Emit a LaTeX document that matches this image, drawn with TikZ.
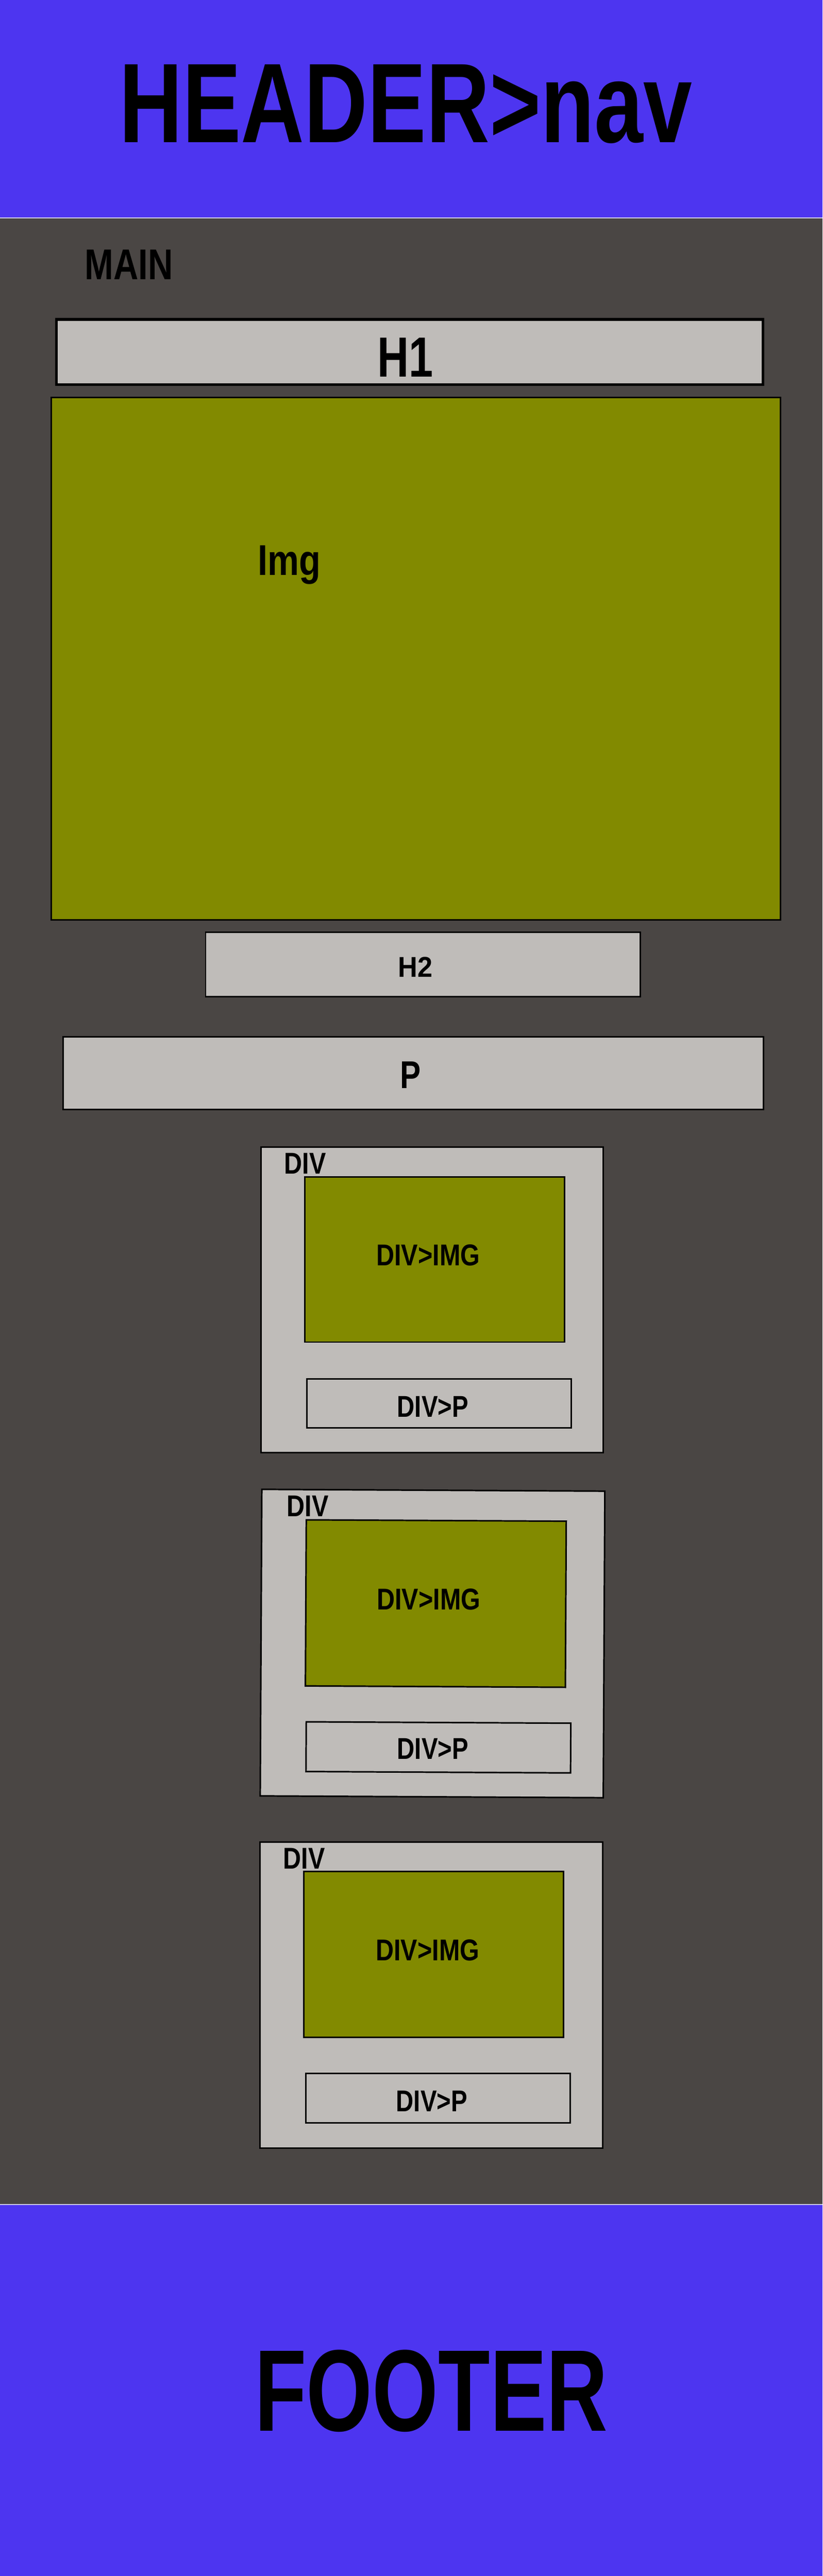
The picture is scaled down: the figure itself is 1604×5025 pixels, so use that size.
\documentclass[tikz,border=0pt]{standalone}
\usepackage{fontspec}
\setmainfont{Liberation Sans}
\definecolor{headblue}{RGB}{77,53,240}
\definecolor{maingrey}{RGB}{74,70,68}
\definecolor{boxgrey}{RGB}{191,188,185}
\definecolor{imgolive}{RGB}{130,138,0}
\definecolor{sepline}{RGB}{205,202,232}
\newcommand{\squeeze}[2]{\scalebox{#1}[1]{#2}}

\begin{document}
\begin{tikzpicture}[x = 0.01cm, y = -0.01cm, thick]
        \tikzstyle{box} = [draw = black, line width = 0.85pt, fill = boxgrey]
        \tikzstyle{imgbox} = [draw = black, line width = 0.85pt, fill = imgolive]
        \tikzstyle{txt} = [inner sep = 0pt, anchor = base, text = black, font = \bfseries]
        \useasboundingbox (0, 0) rectangle (1604, 5025);
        % page bands
        \fill[headblue] (0, 0) rectangle (1604, 425);
        \fill[maingrey] (0, 425) rectangle (1604, 4300);
        \fill[headblue] (0, 4300) rectangle (1604, 5025);
        \draw[sepline, line width = 0.6pt] (0, 425) -- (1604, 425);
        \draw[sepline, line width = 0.6pt] (0, 4300) -- (1604, 4300);
        \node[txt, font = \fontsize{62.8}{70}\selectfont\bfseries] (header) at (791, 278) {\squeeze{0.775}{HEADER>nav}};
        \node[txt, anchor = base west, font = \fontsize{23.9}{28}\selectfont\bfseries] (main) at (164, 545) {\squeeze{0.8}{MAIN}};
        % h1, img, h2, p
        \draw[box, line width = 1.5pt] (110, 623) rectangle (1488, 750);
        \node[txt, font = \fontsize{31.4}{36}\selectfont\bfseries] (h1) at (790, 735) {\squeeze{0.77}{H1}};
        \draw[imgbox] (100, 775) rectangle (1522, 1794);
        \node[txt, font = \fontsize{23.9}{28}\selectfont\bfseries] (img) at (564, 1122) {\squeeze{0.82}{Img}};
        \draw[box] (401, 1819) rectangle (1249, 1944);
        \node[txt, font = \fontsize{15.9}{18}\selectfont\bfseries] (h2) at (810, 1906) {\squeeze{0.94}{H2}};
        \draw[box] (123, 2023) rectangle (1489, 2164);
        \node[txt, font = \fontsize{21.5}{25}\selectfont\bfseries] (p) at (801, 2123) {\squeeze{0.8}{P}};
        % div 1
        \draw[box] (509, 2238) rectangle (1176, 2834);
        \node[txt, anchor = base west, font = \fontsize{16.7}{20}\selectfont\bfseries] (div-1) at (553, 2290) {\squeeze{0.83}{DIV}};
        \draw[imgbox] (594, 2296) rectangle (1101, 2618);
        \node[txt, font = \fontsize{16.7}{20}\selectfont\bfseries] (divimg-1) at (835, 2469) {\squeeze{0.83}{DIV>IMG}};
        \draw[box] (598, 2690) rectangle (1114, 2785);
        \node[txt, font = \fontsize{16.7}{20}\selectfont\bfseries] (divp-1) at (844, 2764) {\squeeze{0.81}{DIV>P}};
        % div 2
        \begin{scope}[rotate around = {-0.3:(843, 3206)}]
        \draw[box] (509, 2907) rectangle (1178, 3505);
        \draw[imgbox] (596, 2966) rectangle (1103, 3290);
        \draw[box] (598, 3360) rectangle (1114, 3457);
        \end{scope}
        \node[txt, anchor = base west, font = \fontsize{16.7}{20}\selectfont\bfseries] (div-2) at (558, 2958) {\squeeze{0.83}{DIV}};
        \node[txt, font = \fontsize{16.7}{20}\selectfont\bfseries] (divimg-2) at (836, 3140) {\squeeze{0.83}{DIV>IMG}};
        \node[txt, font = \fontsize{16.7}{20}\selectfont\bfseries] (divp-2) at (844, 3432) {\squeeze{0.81}{DIV>P}};
        % div 3
        \draw[box] (507, 3593) rectangle (1175, 4190);
        \node[txt, anchor = base west, font = \fontsize{16.7}{20}\selectfont\bfseries] (div-3) at (551, 3646) {\squeeze{0.83}{DIV}};
        \draw[imgbox] (592, 3651) rectangle (1099, 3974);
        \node[txt, font = \fontsize{16.7}{20}\selectfont\bfseries] (divimg-3) at (834, 3824) {\squeeze{0.83}{DIV>IMG}};
        \draw[box] (596, 4045) rectangle (1112, 4141);
        \node[txt, font = \fontsize{16.7}{20}\selectfont\bfseries] (divp-3) at (842, 4119) {\squeeze{0.81}{DIV>P}};
        \node[txt, font = \fontsize{64.4}{72}\selectfont\bfseries] (footer) at (841, 4742) {\squeeze{0.73}{FOOTER}};
\end{tikzpicture}
\end{document}
